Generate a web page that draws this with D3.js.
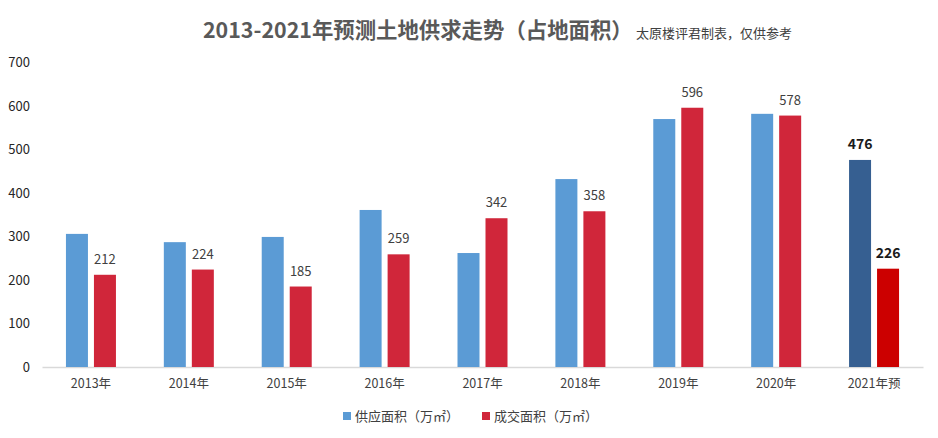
<!DOCTYPE html>
<html><head><meta charset="utf-8">
<script src="https://cdn.jsdelivr.net/npm/d3@7/dist/d3.min.js"></script>
<style>
html,body{margin:0;padding:0;background:#fff;}
svg{display:block;font-family:"Noto Sans CJK SC","Noto Sans",sans-serif;}
</style></head><body>
<svg id="c" width="938" height="438"></svg>
<script>
const categories = ["2013年","2014年","2015年","2016年","2017年","2018年","2019年","2020年","2021年预"];
const supply = [306, 287, 299, 361, 262, 432, 570, 582, 476];
const deal = [212, 224, 185, 259, 342, 358, 596, 578, 226];
const yTicks = [0,100,200,300,400,500,600,700];
const seriesNames = ["供应面积（万㎡）","成交面积（万㎡）"];
const titleMain = "2013-2021年预测土地供求走势（占地面积）";
const titleSub = "太原楼评君制表，仅供参考";

const svg = d3.select("#c");
const x = d3.scaleBand().domain(categories).range([42, 923]);
const y = d3.scaleLinear().domain([0, 700]).range([367, 62.5]);
const barW = 22, gap = 6;
const colSupply = "#5B9BD5", colDeal = "#D0263A";
const colSupplyF = "#365F91", colDealF = "#CC0000";
const last = categories.length - 1;

// y axis labels
const yAxis = d3.axisLeft(y).tickValues(yTicks).tickSize(0).tickPadding(0);
const gy = svg.append("g").attr("transform","translate(30,0)").call(yAxis);
gy.select(".domain").remove();
gy.selectAll("text").attr("font-size",13).attr("fill","#262626").attr("font-family","'Noto Sans CJK SC',sans-serif");

// x axis
const xAxis = d3.axisBottom(x).tickSize(0).tickPadding(12);
const gx = svg.append("g").attr("transform","translate(0,367)").call(xAxis);
gx.select(".domain").attr("stroke","#d9d9d9").attr("stroke-width",1.5);
gx.selectAll("text").attr("font-size",12.5).attr("fill","#404040").attr("font-family","'Noto Sans CJK SC',sans-serif");

const cx = d => x(d) + x.bandwidth()/2;

// supply bars
svg.append("g").selectAll("rect").data(supply).join("rect")
  .attr("x",(d,i)=>cx(categories[i]) - gap/2 - barW)
  .attr("y",d=>y(d)).attr("width",barW).attr("height",d=>y(0)-y(d))
  .attr("fill",(d,i)=> i===last ? colSupplyF : colSupply);

// deal bars
svg.append("g").selectAll("rect").data(deal).join("rect")
  .attr("x",(d,i)=>cx(categories[i]) + gap/2)
  .attr("y",d=>y(d)).attr("width",barW).attr("height",d=>y(0)-y(d))
  .attr("fill",(d,i)=> i===last ? colDealF : colDeal);

// deal labels
svg.append("g").selectAll("text").data(deal).join("text")
  .attr("x",(d,i)=>cx(categories[i]) + gap/2 + barW/2)
  .attr("y",d=>y(d)-11)
  .attr("text-anchor","middle")
  .attr("font-size",(d,i)=> i===last ? 14 : 13)
  .attr("font-weight",(d,i)=> i===last ? "bold" : "normal")
  .attr("fill",(d,i)=> i===last ? "#1a1a1a" : "#404040")
  .text(d=>d);

// supply label for forecast only
svg.append("text")
  .attr("x", cx(categories[last]) - gap/2 - barW/2)
  .attr("y", y(supply[last]) - 11)
  .attr("text-anchor","middle").attr("font-size",14).attr("font-weight","bold").attr("fill","#1a1a1a")
  .text(supply[last]);

// title
svg.append("text").attr("x",203).attr("y",38)
  .attr("font-size",21.4).attr("font-weight","bold").attr("fill","#595959").text(titleMain);
svg.append("text").attr("x",636).attr("y",38)
  .attr("font-size",13).attr("fill","#404040").text(titleSub);

// legend
const leg = [{n:seriesNames[0],c:colSupply,x:343},{n:seriesNames[1],c:colDeal,x:482}];
const lg = svg.append("g").selectAll("g").data(leg).join("g").attr("transform",d=>`translate(${d.x},0)`);
lg.append("rect").attr("x",0).attr("y",412).attr("width",8).attr("height",8).attr("fill",d=>d.c);
lg.append("text").attr("x",12).attr("y",421).attr("font-size",13).attr("fill","#404040").text(d=>d.n);
</script>
</body></html>
